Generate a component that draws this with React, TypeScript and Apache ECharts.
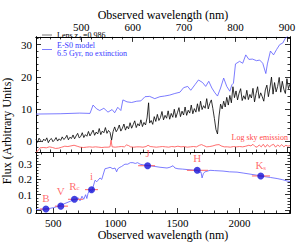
import React, { useEffect, useRef } from "react";
import * as echarts from "echarts";

// ---------- data ----------
// Top panel: lens spectrum (observed wavelength nm, flux)
const lensSpectrum: [number, number][] = [
  [412, 0.5], [415, -0.4], [418, 0.9], [421, 0.2], [424, -0.3], [427, 0.6], [430, 0.1], [433, 1.0],
  [436, -0.5], [439, 0.4], [442, 0.8], [445, -0.2], [448, 0.3], [451, 1.1], [454, 0.0], [457, 0.7],
  [460, 0.2], [463, 1.3], [466, 0.5], [469, 0.9], [472, 1.8], [475, 0.4], [478, 1.2], [481, 0.8],
  [484, 1.9], [487, 0.7], [490, 1.6], [493, 2.4], [496, 1.0], [499, 1.4], [502, 2.6], [505, 1.1],
  [508, 2.0], [511, 1.5], [514, 3.0], [517, 1.6], [520, 2.5], [523, 3.4], [526, 1.8], [529, 2.8],
  [532, 2.2], [535, 3.9], [538, 2.0], [541, 3.1], [544, 2.6], [547, 4.2], [550, 2.4], [553, 3.3],
  [556, 2.7], [559, 0.3], [562, 3.0], [565, 4.4], [568, 2.9], [571, 3.7], [574, 5.0], [577, 3.1],
  [580, 4.0], [583, 5.3], [586, 3.4], [589, 4.6], [592, 3.8], [595, 5.7], [598, 4.0], [601, 5.1],
  [604, 6.3], [607, 4.2], [610, 5.4], [613, 4.7], [616, 6.6], [619, 4.5], [622, 5.8], [625, 5.0],
  [628, 7.2], [631, 11.9], [633, 5.6], [636, 6.4], [639, 5.2], [642, 7.6], [645, 6.1], [648, 8.3],
  [651, 6.4], [654, 7.3], [657, 9.2], [660, 6.6], [663, 8.0], [666, 7.1], [669, 9.4], [672, 6.8],
  [675, 8.6], [678, 7.4], [681, 9.9], [684, 7.3], [687, 8.8], [690, 10.4], [693, 7.6], [696, 9.3],
  [699, 8.1], [702, 10.6], [705, 8.0], [708, 9.6], [711, 8.7], [714, 11.2], [717, 8.5], [720, 10.1],
  [723, 9.0], [726, 11.6], [729, 9.2], [732, 12.4], [735, 9.8], [738, 11.0], [741, 10.2], [744, 13.2],
  [747, 10.0], [750, 11.7], [753, 12.8], [756, 10.1], [759, 7.0], [762, 3.6], [765, 2.2], [768, 7.8],
  [771, 11.5], [774, 10.0], [777, 12.4], [780, 10.6], [783, 13.6], [786, 11.2], [789, 14.2], [792, 11.9],
  [795, 16.9], [798, 13.5], [801, 15.6], [804, 12.8], [807, 14.9], [810, 16.3], [813, 12.6], [816, 14.1],
  [819, 13.0], [822, 15.8], [825, 12.9], [828, 14.5], [831, 13.4], [834, 16.4], [837, 12.2], [840, 14.8],
  [843, 16.9], [846, 13.3], [849, 15.0], [852, 13.8], [855, 12.4], [858, 15.9], [861, 17.4], [864, 13.8],
  [867, 16.5], [870, 19.9], [873, 14.6], [876, 18.2], [879, 15.3], [882, 17.0], [885, 19.8], [888, 15.2],
  [891, 18.6], [894, 16.1], [897, 14.8], [900, 19.4], [903, 16.3], [906, 17.8],
];

// Top panel: E-S0 model, 6.5 Gyr
const modelOptical: [number, number][] = [
  [412, 8.4], [459, 8.5], [497, 8.7], [517, 8.6], [523, 11.2], [530, 10.0], [536, 9.5], [544, 10.2],
  [552, 9.0], [560, 9.8], [565, 8.8], [571, 10.5], [577, 9.5], [581, 12.8], [589, 12.2], [598, 12.0],
  [608, 12.4], [616, 12.5], [624, 13.8], [633, 13.9], [643, 13.2], [653, 13.8], [662, 14.0], [672, 14.3],
  [682, 14.8], [692, 15.2], [699, 16.6], [707, 17.0], [713, 15.8], [721, 17.5], [728, 19.0], [736, 18.2],
  [742, 17.0], [748, 18.6], [754, 16.5], [760, 15.0], [765, 14.0], [771, 16.5], [777, 19.6], [783, 17.0],
  [789, 15.5], [793, 17.5], [796, 18.0], [800, 24.0], [808, 24.8], [814, 24.2], [820, 26.8], [826, 25.4],
  [833, 25.5], [841, 25.0], [847, 25.2], [853, 24.2], [859, 21.0], [862, 24.0], [868, 28.0], [874, 26.8],
  [880, 28.5], [886, 30.0], [892, 30.5], [897, 32.0], [903, 32.8], [906, 33.5],
];

// Top panel: log sky emission
const skyEmission: [number, number][] = [
  [412, -3.4], [416, -3.0], [420, -2.1], [426, -2.0], [432, -2.1], [438, -1.8], [444, -2.0], [450, -2.3],
  [456, -2.2], [462, -1.9], [468, -1.6], [474, -1.7], [480, -1.5], [486, -1.3], [492, -1.6], [498, -1.9],
  [504, -2.0], [510, -1.9], [516, -1.8], [522, -1.9], [528, -1.8], [534, -1.9], [540, -2.0], [546, -1.9],
  [552, -1.9], [556, -1.8], [558, 0.3], [560, -1.8], [566, -1.9], [572, -1.8], [578, -1.7], [584, -1.8],
  [588, -1.2], [592, -1.4], [596, -1.8], [602, -1.9], [608, -1.8], [614, -1.8], [620, -1.9], [626, -1.7],
  [630, -1.3], [634, -1.7], [640, -1.8], [646, -1.9], [652, -1.8], [658, -1.7], [664, -1.8], [670, -1.9],
  [676, -1.7], [682, -1.8], [688, -1.6], [694, -1.8], [700, -1.7], [706, -1.9], [712, -1.8], [718, -1.7],
  [724, -1.8], [730, -1.3], [734, -1.1], [738, -1.4], [744, -1.8], [750, -1.7], [756, -1.5], [762, -1.2],
  [768, -1.1], [772, -1.5], [778, -1.8], [784, -1.8], [790, -1.9], [796, -1.7], [802, -1.8], [808, -1.7],
  [814, -1.8], [820, -1.6], [826, -1.3], [830, -1.5], [834, -1.0], [838, -1.7], [842, -1.9], [846, -1.2],
  [850, -1.8], [854, -1.0], [858, -1.9], [862, -1.1], [866, -1.8], [870, -1.3], [874, -1.0], [878, -1.9],
  [882, -1.2], [886, -1.7], [890, -1.1], [894, -1.8], [898, -1.3], [902, -1.6], [906, -1.4],
];

// Bottom panel: broad-band model SED
const modelSED: [number, number][] = [
  [360, 0.003], [400, 0.004], [433, 0.006], [470, 0.010], [500, 0.015], [530, 0.022], [554, 0.030],
  [580, 0.038], [610, 0.048], [640, 0.058], [658, 0.065], [680, 0.070], [700, 0.080], [715, 0.060],
  [731, 0.090], [745, 0.070], [760, 0.100], [770, 0.075], [780, 0.110], [795, 0.130], [810, 0.120],
  [820, 0.150], [836, 0.195], [850, 0.185], [876, 0.210], [890, 0.200], [916, 0.270], [940, 0.275],
  [957, 0.280], [980, 0.270], [997, 0.275], [1010, 0.250], [1020, 0.270], [1037, 0.280], [1050, 0.285],
  [1077, 0.300], [1100, 0.300], [1120, 0.310], [1142, 0.310], [1160, 0.305], [1180, 0.310], [1199, 0.300],
  [1230, 0.295], [1279, 0.290], [1320, 0.285], [1360, 0.280], [1416, 0.275], [1440, 0.280], [1465, 0.290],
  [1480, 0.275], [1505, 0.270], [1540, 0.268], [1578, 0.265], [1620, 0.262], [1658, 0.260], [1680, 0.245],
  [1690, 0.250], [1699, 0.210], [1710, 0.240], [1723, 0.250], [1763, 0.260], [1800, 0.258], [1868, 0.255],
  [1920, 0.250], [1981, 0.248], [2030, 0.242], [2086, 0.235], [2140, 0.228], [2191, 0.220], [2250, 0.213],
  [2304, 0.206], [2350, 0.198], [2384, 0.190], [2408, 0.186],
];

// Bottom panel: photometry
const filterNames = ["B", "V", "R_c", "i", "J", "H", "K_s"];
const filterCenters = [440, 560, 670, 808, 1260, 1660, 2172];
const filterFlux = [0.006, 0.025, 0.07, 0.133, 0.29, 0.26, 0.223];
const filterLo = [392, 513, 618, 755, 1183, 1577, 2101];
const filterHi = [472, 618, 740, 860, 1320, 1747, 2247];

// Axis ticks
const topXMajor = [500, 600, 700, 800, 900];
const topXMinor = [420, 440, 460, 480, 520, 540, 560, 580, 620, 640, 660, 680, 720, 740, 760, 780, 820, 840, 860, 880];
const topYMajor = [0, 10, 20, 30];
const topYMinor = [-2, 2, 4, 6, 8, 12, 14, 16, 18, 22, 24, 26, 28, 32];
const botXMajor = [500, 1000, 1500, 2000];
const botXMinor = [400, 600, 700, 800, 900, 1100, 1200, 1300, 1400, 1600, 1700, 1800, 1900, 2100, 2200, 2300, 2400];
const botYMajor = [0, 0.1, 0.2, 0.3];
const botYMinor = [0.02, 0.04, 0.06, 0.08, 0.12, 0.14, 0.16, 0.18, 0.22, 0.24, 0.26, 0.28, 0.32, 0.34, 0.36];

// ---------- styles ----------
const FONT = '"Liberation Serif", "DejaVu Serif", serif';
const BLUE = "#5a5aff";
const RED = "#ff4a4a";
const labelGap = [2, 6, 4, 4, 3, 3, 1];

function mkAxis(
  gridIndex: number,
  position: string,
  min: number,
  max: number,
  values: number[],
  len: number,
  labels: boolean,
  extra: any = {}
) {
  return {
    type: "value",
    gridIndex,
    position,
    min,
    max,
    offset: 0,
    splitLine: { show: false },
    axisLine: { show: true, onZero: false, lineStyle: { color: "#000", width: 1 } },
    axisTick: { show: true, inside: true, length: len, customValues: values, lineStyle: { color: "#000", width: 0.8 } },
    axisLabel: labels
      ? {
          show: true, customValues: values, margin: 4, color: "#000", fontFamily: FONT, fontSize: 11,
          formatter: (v: number) => String(v),
        }
      : { show: false },
    ...extra,
  };
}

function richName(n: string) {
  const parts = n.split("_");
  return parts.length > 1 ? `{m|${parts[0]}}{s|${parts[1]}}` : `{m|${parts[0]}}`;
}

export default function App() {
  const ref = useRef<HTMLDivElement>(null);

  useEffect(() => {
    if (!ref.current) return;
    const chart = echarts.init(ref.current, undefined, { renderer: "svg" });
    const T = [412, 906];
    const TY = [-3.4, 32.4];
    const B = [360, 2408];
    const BY = [-0.02, 0.38];
    const nameStyle = { fontFamily: FONT, fontSize: 12, color: "#000" };

    const xAxis = [
      mkAxis(0, "top", T[0], T[1], topXMajor, 5, true, {
        name: "Observed wavelength (nm)",
        nameLocation: "middle",
        nameGap: 15,
        nameTextStyle: nameStyle,
      }),
      mkAxis(0, "top", T[0], T[1], topXMinor, 2.5, false),
      mkAxis(0, "bottom", T[0], T[1], topXMajor, 5, false),
      mkAxis(0, "bottom", T[0], T[1], topXMinor, 2.5, false),
      mkAxis(1, "bottom", B[0], B[1], botXMajor, 5, true, {
        name: "Observed wavelength (nm)",
        nameLocation: "middle",
        nameGap: 16,
        nameTextStyle: nameStyle,
      }),
      mkAxis(1, "bottom", B[0], B[1], botXMinor, 2.5, false),
      mkAxis(1, "top", B[0], B[1], botXMajor, 5, false),
      mkAxis(1, "top", B[0], B[1], botXMinor, 2.5, false),
    ];
    const yAxis = [
      mkAxis(0, "left", TY[0], TY[1], topYMajor, 5, true),
      mkAxis(0, "left", TY[0], TY[1], topYMinor, 2.5, false),
      mkAxis(0, "right", TY[0], TY[1], topYMajor, 5, false),
      mkAxis(0, "right", TY[0], TY[1], topYMinor, 2.5, false),
      mkAxis(1, "left", BY[0], BY[1], botYMajor, 5, true),
      mkAxis(1, "left", BY[0], BY[1], botYMinor, 2.5, false),
      mkAxis(1, "right", BY[0], BY[1], botYMajor, 5, false),
      mkAxis(1, "right", BY[0], BY[1], botYMinor, 2.5, false),
    ];

    const points = filterNames.map((n, i) => ({
      value: [filterCenters[i], filterFlux[i]],
      label: {
        show: true,
        position: "top",
        distance: labelGap[i],
        formatter: richName(n),
        rich: {
          m: { fontFamily: FONT, fontSize: 11, color: RED, lineHeight: 12 },
          s: { fontFamily: FONT, fontSize: 7, color: RED, verticalAlign: "bottom", lineHeight: 8, padding: [4, 0, 0, 0] },
        },
      },
    }));

    const legendFont = `8px ${FONT}`;
    const option: any = {
      animation: false,
      grid: [
        { left: 36, right: 9, top: 25, height: 127 },
        { left: 36, right: 9, top: 152, height: 64 },
      ],
      xAxis,
      yAxis,
      series: [
        {
          type: "line", xAxisIndex: 0, yAxisIndex: 0, data: skyEmission, symbol: "none",
          lineStyle: { color: RED, width: 0.8 }, z: 2,
        },
        {
          type: "line", xAxisIndex: 0, yAxisIndex: 0, data: modelOptical, symbol: "none",
          lineStyle: { color: BLUE, width: 0.8 }, z: 3,
        },
        {
          type: "line", xAxisIndex: 0, yAxisIndex: 0, data: lensSpectrum, symbol: "none",
          lineStyle: { color: "#000", width: 0.8 }, z: 4,
        },
        {
          type: "line", xAxisIndex: 4, yAxisIndex: 4, data: modelSED, symbol: "none",
          lineStyle: { color: BLUE, width: 0.8 }, z: 2,
        },
        {
          type: "custom", xAxisIndex: 4, yAxisIndex: 4, z: 3,
          data: filterLo.map((lo, i) => [lo, filterHi[i], filterFlux[i]]),
          encode: { x: [0, 1], y: 2 },
          renderItem: (_p: any, api: any) => {
            const a = api.coord([api.value(0), api.value(2)]);
            const b = api.coord([api.value(1), api.value(2)]);
            return {
              type: "line",
              shape: { x1: a[0], y1: a[1], x2: b[0], y2: b[1] },
              style: { stroke: "#ff6060", lineWidth: 1 },
            };
          },
        },
        {
          type: "scatter", xAxisIndex: 4, yAxisIndex: 4, z: 4,
          symbol: "circle", symbolSize: 7,
          itemStyle: { color: "#1414d8" },
          data: points,
        },
      ],
      graphic: [
        {
          type: "text", x: 7, y: 131, rotation: Math.PI / 2,
          style: {
            text: "Flux (Arbitrary Units)", font: `12px ${FONT}`, fill: "#000",
            textAlign: "center", textVerticalAlign: "middle", align: "center", verticalAlign: "middle",
          },
        },
        { type: "line", shape: { x1: 42, y1: 35, x2: 52, y2: 35 }, style: { stroke: "#555", lineWidth: 0.8 } },
        {
          type: "text", x: 57, y: 31.5,
          style: { text: "Lens z", font: legendFont, fill: "#000", textVerticalAlign: "top", verticalAlign: "top" },
        },
        {
          type: "text", x: 79.5, y: 35,
          style: { text: "l", font: `6px ${FONT}`, fill: "#000", textVerticalAlign: "top", verticalAlign: "top" },
        },
        {
          type: "text", x: 83, y: 31.5,
          style: { text: "=0.986", font: legendFont, fill: "#000", textVerticalAlign: "top", verticalAlign: "top" },
        },
        { type: "line", shape: { x1: 42, y1: 49.5, x2: 52, y2: 49.5 }, style: { stroke: BLUE, lineWidth: 0.8 } },
        {
          type: "text", x: 57, y: 41.5,
          style: { text: "E-S0 model", font: legendFont, fill: "#3a3aff", textVerticalAlign: "top", verticalAlign: "top" },
        },
        {
          type: "text", x: 57, y: 49.5,
          style: { text: "6.5 Gyr, no extinction", font: legendFont, fill: "#3a3aff", textVerticalAlign: "top", verticalAlign: "top" },
        },
        {
          type: "text", x: 288, y: 133,
          style: {
            text: "Log sky emission", font: legendFont, fill: RED,
            textAlign: "right", align: "right", textVerticalAlign: "top", verticalAlign: "top",
          },
        },
      ],
    };
    chart.setOption(option);
    return () => chart.dispose();
  }, []);

  return <div ref={ref} style={{ width: 299, height: 242, position: "absolute", left: 0, top: 0 }} />;
}
